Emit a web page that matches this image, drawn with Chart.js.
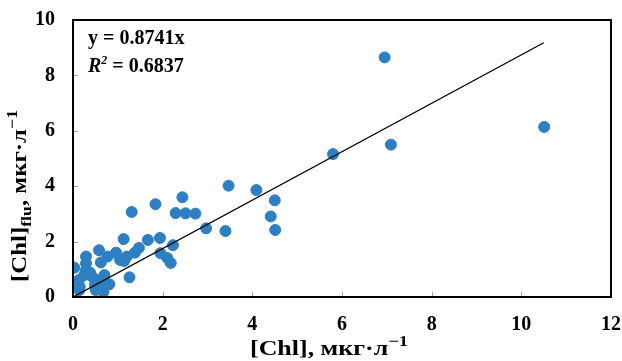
<!DOCTYPE html>
<html>
<head>
<meta charset="utf-8">
<script src="https://cdn.jsdelivr.net/npm/chart.js@4"></script>
<style>
  html, body { margin: 0; padding: 0; background: #fff; }
  #wrap { width: 622px; height: 361px; }
</style>
</head>
<body>
<div id="wrap"><canvas id="chartChl" width="622" height="361"></canvas></div>
<script>
// измерения: [Chl] (x) и [Chl]flu (y)
const chlX = [6.95, 10.51, 7.09, 5.80,
    3.47, 4.09, 4.50, 4.41, 4.51, 3.40, 2.97,
    2.44, 1.84, 1.31, 2.29, 2.51, 2.73,
    1.13, 1.67, 1.94, 2.23, 0.58, 1.47, 1.38, 0.96, 0.77, 1.20, 1.05, 1.14, 1.95, 2.10, 2.18,
    0.29, 0.29, 0.62, 0.03, 0.29, 0.38, 1.26, 0.25, 0.43, 0.70, 0.51, 0.13, 0.15, 0.49, 0.65, 0.81, 0.14, 0.51, 0.68];
const chlFlu = [8.65, 6.14, 5.50, 5.16,
    4.02, 3.86, 3.49, 2.91, 2.42, 2.38, 2.48,
    3.60, 3.35, 3.07, 3.03, 3.02, 3.01,
    2.09, 2.06, 2.13, 1.87, 1.69, 1.77, 1.60, 1.60, 1.46, 1.46, 1.34, 1.30, 1.58, 1.41, 1.23,
    1.46, 1.22, 1.25, 1.06, 0.97, 0.88, 0.71, 0.79, 0.73, 0.79, 0.61, 0.61, 0.37, 0.43, 0.43, 0.46, 0.25, 0.25, 0.19];

// линия тренда y = 0.8741x
const trendX = [0, 10.5];
const trendY = [0, 9.18];

const xTicks = [0, 2, 4, 6, 8, 10, 12];
const yTicks = [0, 2, 4, 6, 8, 10];

const serif = "'Liberation Serif', 'Times New Roman', serif";

const points = chlX.map((x, i) => ({ x: x, y: chlFlu[i] }));
const trend = trendX.map((x, i) => ({ x: x, y: trendY[i] }));

// рамка, внутренние засечки, подписи осей и уравнение
const decor = {
    id: 'decor',
    afterDraw(chart) {
        const ctx = chart.ctx;
        const a = chart.chartArea;
        const sx = chart.scales.x, sy = chart.scales.y;
        ctx.save();

        ctx.strokeStyle = '#a0a0a0';
        ctx.lineWidth = 1;
        xTicks.forEach(v => {
            const px = Math.round(sx.getPixelForValue(v)) + 0.5;
            ctx.beginPath(); ctx.moveTo(px, a.bottom); ctx.lineTo(px, a.bottom - 5); ctx.stroke();
        });
        yTicks.forEach(v => {
            const py = Math.round(sy.getPixelForValue(v)) + 0.5;
            ctx.beginPath(); ctx.moveTo(a.left, py); ctx.lineTo(a.left + 5, py); ctx.stroke();
        });

        ctx.strokeStyle = '#000';
        ctx.lineWidth = 2;
        ctx.strokeRect(a.left, a.top, a.right - a.left, a.bottom - a.top);

        ctx.fillStyle = '#000';
        ctx.textBaseline = 'alphabetic';

        // уравнение
        ctx.textAlign = 'left';
        ctx.font = 'bold 20px ' + serif;
        ctx.fillText('y = 0.8741x', a.left + 15, a.top + 24);
        let tx = a.left + 15, ty = a.top + 52;
        ctx.font = 'italic bold 20px ' + serif;
        ctx.fillText('R', tx, ty);
        tx += ctx.measureText('R').width;
        ctx.font = 'italic bold 12px ' + serif;
        ctx.fillText('2', tx, ty - 8);
        tx += ctx.measureText('2').width;
        ctx.font = 'bold 20px ' + serif;
        ctx.fillText(' = 0.6837', tx, ty);

        // подпись оси X
        const xParts = [
            { t: '[Chl], мкг·л', f: 'bold 21px ' + serif, dy: 0 },
            { t: '\u2212', f: 'bold 15px ' + serif, dy: -9 },
            { t: '1', f: 'bold 15px ' + serif, dy: -9 }
        ];
        ctx.save();
        ctx.translate(329, 355);
        drawParts(ctx, xParts, 158);
        ctx.restore();

        // подпись оси Y (повёрнутая)
        ctx.save();
        ctx.translate(26, 196);
        ctx.rotate(-Math.PI / 2);
        const yParts = [
            { t: '[Chl]', f: 'bold 21px ' + serif, dy: 0 },
            { t: 'flu', f: 'bold 15px ' + serif, dy: 5 },
            { t: ', мкг·л', f: 'bold 21px ' + serif, dy: 0 },
            { t: '\u2212', f: 'bold 15px ' + serif, dy: -9 },
            { t: '1', f: 'bold 15px ' + serif, dy: -9 }
        ];
        drawParts(ctx, yParts, 172);
        ctx.restore();
        ctx.restore();
    }
};

// рисует составную подпись по центру, растягивая до нужной длины
function drawParts(ctx, parts, width) {
    let total = 0;
    parts.forEach(p => { ctx.font = p.f; total += ctx.measureText(p.t).width; });
    ctx.scale(width / total, 1);
    let x = -total / 2;
    ctx.textAlign = 'left';
    parts.forEach(p => {
        ctx.font = p.f;
        ctx.fillText(p.t, x, p.dy);
        x += ctx.measureText(p.t).width;
    });
}

const config = {
    type: 'scatter',
    data: {
        datasets: [
            {
                label: 'Chl',
                data: points,
                backgroundColor: '#2E7FC1',
                borderColor: '#2E7FC1',
                pointRadius: 5.5,
                pointHoverRadius: 5.5,
                order: 2
            },
            {
                type: 'line',
                label: 'trend',
                data: trend,
                borderColor: '#000',
                borderWidth: 1.3,
                pointRadius: 0,
                fill: false,
                order: 1
            }
        ]
    },
    options: {
        responsive: false,
        animation: false,
        layout: { padding: { left: 0, top: 20, right: 11, bottom: 0 } },
        plugins: {
            legend: { display: false },
            tooltip: { enabled: false }
        },
        scales: {
            x: {
                type: 'linear',
                min: 0,
                max: 12,
                afterFit: s => {
                    s.height = 64;
                    s.paddingLeft = 0;
                    s.paddingRight = 0;
                },
                afterBuildTicks: s => { s.ticks = xTicks.map(v => ({ value: v })); },
                grid: { display: false, drawTicks: false },
                border: { display: false },
                ticks: {
                    padding: 16,
                    color: '#000',
                    font: { family: serif, size: 20, weight: 'bold' }
                }
            },
            y: {
                type: 'linear',
                min: 0,
                max: 10,
                afterFit: s => {
                    s.width = 73;
                    s.paddingTop = 0;
                    s.paddingBottom = 0;
                },
                afterBuildTicks: s => { s.ticks = yTicks.map(v => ({ value: v })); },
                grid: { display: false, drawTicks: false },
                border: { display: false },
                ticks: {
                    padding: 18,
                    color: '#000',
                    font: { family: serif, size: 20, weight: 'bold' }
                }
            }
        }
    },
    plugins: [decor]
};

new Chart('chartChl', config);
</script>
</body>
</html>
